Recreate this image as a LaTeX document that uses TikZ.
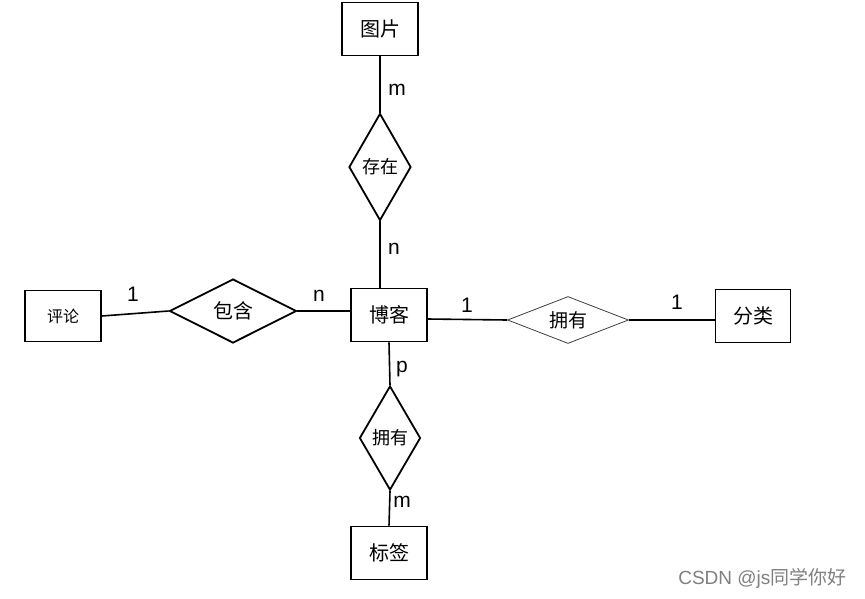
\documentclass[tikz,border=0pt]{standalone}
\usepackage{fontspec}
\setmainfont{Liberation Sans}
\newfontfamily\cjk{Noto Sans CJK SC}
\usetikzlibrary{shapes.geometric}

\tikzset{
  entity/.style={draw,line width=1.6pt,minimum width=76pt,minimum height=53pt,inner sep=0pt,font=\cjk\fontsize{20}{22}\selectfont},
  relation/.style={draw,diamond,line width=1.8pt,inner sep=0pt,font=\cjk\fontsize{18}{20}\selectfont},
  link/.style={line width=1.6pt},
  card/.style={font=\fontsize{21}{23}\selectfont}
}

\begin{document}
\begin{tikzpicture}[x=1pt,y=-1pt]
  \useasboundingbox[fill=white] (0,0) rectangle (865,598);

  % Entities.
  \node[entity] (tupian) at (380,29) {图片};
  \node[entity] (boke) at (389,315) {博客};
  \node[entity,minimum height=51pt,font=\cjk\fontsize{16}{18}\selectfont] (pinglun) at (63,316) {评论};
  \node[entity,minimum width=75pt] (fenlei) at (753,316) {分类};
  \node[entity] (biaoqian) at (389,553) {标签};

  % Relationships.
  \node[relation,minimum width=62pt,minimum height=107pt] (cunzai) at (380,167) {存在};
  \node[relation,minimum width=127pt,minimum height=64pt,aspect=2,font=\cjk\fontsize{20}{22}\selectfont] (baohan) at (233,311) {包含};
  \node[relation,minimum width=121pt,minimum height=47pt,aspect=2.57,line width=0.8pt,draw=black!75,font=\cjk\fontsize{19}{21}\selectfont] (yongyoua) at (568,320) {拥有};
  \node[relation,minimum width=61pt,minimum height=104pt] (yongyoub) at (390,438) {拥有};

  % Connectors.
  \draw[link] (tupian.south) -- (cunzai.north);
  \draw[link] (cunzai.south) -- (cunzai.south |- boke.north);
  \draw[link] (pinglun.east) -- (baohan.west);
  \draw[link] (baohan.east) -- (baohan.east -| boke.west);
  \draw[link] ([yshift=-4pt]boke.east) -- (yongyoua.west);
  \draw[link] (yongyoua.east) -- (yongyoua.east -| fenlei.west);
  \draw[link] (boke.south) -- (yongyoub.north);
  \draw[link] (yongyoub.south) -- (biaoqian.north);

  % Cardinalities.
  \node[card] (cm1) at (397,90) {m};
  \node[card] (cn1) at (394,249) {n};
  \node[card] (c11) at (133,294) {1};
  \node[card] (cn2) at (319,296) {n};
  \node[card] (c12) at (467,305) {1};
  \node[card] (c13) at (677,302) {1};
  \node[card] (cp) at (402,369) {p};
  \node[card] (cm2) at (402,502) {m};

  \node[text=black!50,font=\fontsize{19}{21}\selectfont,anchor=east] (mark) at (850,578) {CSDN @js{\cjk 同学你好}};
\end{tikzpicture}
\end{document}
